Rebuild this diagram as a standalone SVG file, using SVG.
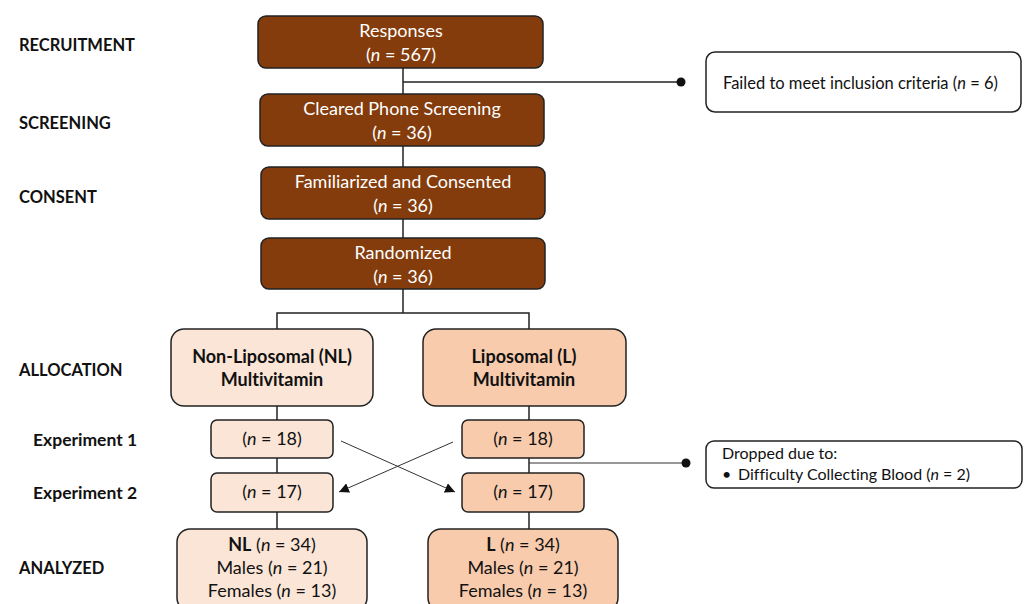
<svg xmlns="http://www.w3.org/2000/svg" width="1027" height="604" viewBox="0 0 1027 604">
<defs>
<style>
text{font-family:Lato,"Open Sans","Liberation Sans",sans-serif;font-variant-ligatures:none;}
.lbl{font-size:16.5px;font-weight:bold;fill:#111;}
.exp{font-size:17.5px;font-weight:bold;fill:#111;}
.dk{fill:#843C0C;stroke:#222;stroke-width:1.5;}
.nl{fill:#FBE5D6;stroke:#222;stroke-width:1.5;}
.l{fill:#F8CBAD;stroke:#222;stroke-width:1.5;}
.wb{fill:#fff;stroke:#222;stroke-width:1.5;}
.wt{font-size:18px;fill:#fff;text-anchor:middle;}
.bt{font-size:18px;fill:#111;text-anchor:middle;}
.bb{font-size:18px;fill:#111;text-anchor:middle;font-weight:bold;}
.st{font-size:16.5px;fill:#111;}
.sd{font-size:16px;fill:#111;}
.ln{stroke:#222;stroke-width:1.5;fill:none;}
.thin{stroke:#333;stroke-width:1;fill:none;}
</style>
<marker id="arr" viewBox="0 0 10 10" refX="10" refY="5" markerWidth="10" markerHeight="10" markerUnits="userSpaceOnUse" orient="auto">
<path d="M0,0 L10,5 L0,10 z" fill="#111"/>
</marker>
</defs>
<rect width="1027" height="604" fill="#fff"/>
<g id="labels">
<text class="lbl" x="19" y="51">RECRUITMENT</text>
<text class="lbl" x="19" y="129">SCREENING</text>
<text class="lbl" x="19" y="203">CONSENT</text>
<text class="lbl" x="19" y="376">ALLOCATION</text>
<text class="exp" x="33" y="446">Experiment 1</text>
<text class="exp" x="33" y="499">Experiment 2</text>
<text class="lbl" x="19" y="574">ANALYZED</text>
</g>
<g id="connectors">
<line class="ln" x1="403" y1="68" x2="403" y2="94"/>
<line class="ln" x1="403" y1="82" x2="681" y2="82"/>
<circle cx="681" cy="82" r="4.5" fill="#111"/>
<line class="ln" x1="403" y1="146" x2="403" y2="167"/>
<line class="ln" x1="403" y1="219" x2="403" y2="238"/>
<line class="ln" x1="403" y1="289" x2="403" y2="313"/>
<polyline class="ln" points="277,329 277,313 529,313 529,329"/>
<line class="ln" x1="277" y1="406" x2="277" y2="420"/>
<line class="ln" x1="277" y1="458" x2="277" y2="473"/>
<line class="ln" x1="277" y1="512" x2="277" y2="529"/>
<line class="ln" x1="529" y1="406" x2="529" y2="420"/>
<line class="ln" x1="529" y1="458" x2="529" y2="473"/>
<line class="ln" x1="529" y1="512" x2="529" y2="529"/>
<line class="thin" x1="529" y1="463" x2="686" y2="463"/>
<circle cx="686" cy="463" r="4.5" fill="#111"/>
<line class="thin" x1="341" y1="441" x2="455" y2="492" marker-end="url(#arr)"/>
<line class="thin" x1="453" y1="442" x2="339" y2="492" marker-end="url(#arr)"/>
</g>
<g id="responses">
<rect class="dk" x="258" y="16" width="285" height="52" rx="8"/>
<text class="wt" x="401" y="37">Responses</text>
<text class="wt" x="401" y="61">(<tspan font-style="italic">n</tspan> = 567)</text>
</g>
<g id="failed">
<rect class="wb" x="706" y="52" width="315" height="60" rx="9"/>
<text class="st" x="723" y="89">Failed to meet inclusion criteria (<tspan font-style="italic">n</tspan> = 6)</text>
</g>
<g id="screening">
<rect class="dk" x="260" y="94" width="284" height="52" rx="8"/>
<text class="wt" x="402" y="115">Cleared Phone Screening</text>
<text class="wt" x="402" y="139">(<tspan font-style="italic">n</tspan> = 36)</text>
</g>
<g id="consent">
<rect class="dk" x="261" y="167" width="284" height="52" rx="8"/>
<text class="wt" x="403" y="188">Familiarized and Consented</text>
<text class="wt" x="403" y="212">(<tspan font-style="italic">n</tspan> = 36)</text>
</g>
<g id="randomized">
<rect class="dk" x="261" y="238" width="284" height="51" rx="8"/>
<text class="wt" x="403" y="259">Randomized</text>
<text class="wt" x="403" y="283">(<tspan font-style="italic">n</tspan> = 36)</text>
</g>
<g id="nl-alloc">
<rect class="nl" x="171" y="329" width="202" height="77" rx="13"/>
<text class="bb" x="272" y="363">Non-Liposomal (NL)</text>
<text class="bb" x="272" y="386">Multivitamin</text>
</g>
<g id="l-alloc">
<rect class="l" x="423" y="329" width="203" height="77" rx="13"/>
<text class="bb" x="524" y="363">Liposomal (L)</text>
<text class="bb" x="524" y="386">Multivitamin</text>
</g>
<g id="nl-exp1">
<rect class="nl" x="211" y="420" width="122" height="38" rx="6"/>
<text class="bt" x="272" y="445">(<tspan font-style="italic">n</tspan> = 18)</text>
</g>
<g id="l-exp1">
<rect class="l" x="462" y="420" width="122" height="38" rx="6"/>
<text class="bt" x="523" y="445">(<tspan font-style="italic">n</tspan> = 18)</text>
</g>
<g id="nl-exp2">
<rect class="nl" x="211" y="473" width="122" height="39" rx="6"/>
<text class="bt" x="272" y="498">(<tspan font-style="italic">n</tspan> = 17)</text>
</g>
<g id="l-exp2">
<rect class="l" x="462" y="473" width="122" height="39" rx="6"/>
<text class="bt" x="523" y="498">(<tspan font-style="italic">n</tspan> = 17)</text>
</g>
<g id="dropped">
<rect class="wb" x="706" y="441" width="316" height="47" rx="8"/>
<text class="sd" x="722" y="459">Dropped due to:</text>
<text class="sd" x="722" y="480">•</text>
<text class="sd" x="738" y="480">Difficulty Collecting Blood (<tspan font-style="italic">n</tspan> = 2)</text>
</g>
<g id="nl-analyzed">
<rect class="nl" x="177" y="529" width="190" height="82" rx="13"/>
<text class="bt" x="272" y="551"><tspan font-weight="bold">NL</tspan> (<tspan font-style="italic">n</tspan> = 34)</text>
<text class="bt" x="272" y="574">Males (<tspan font-style="italic">n</tspan> = 21)</text>
<text class="bt" x="272" y="597">Females (<tspan font-style="italic">n</tspan> = 13)</text>
</g>
<g id="l-analyzed">
<rect class="l" x="428" y="529" width="190" height="82" rx="13"/>
<text class="bt" x="523" y="551"><tspan font-weight="bold">L</tspan> (<tspan font-style="italic">n</tspan> = 34)</text>
<text class="bt" x="523" y="574">Males (<tspan font-style="italic">n</tspan> = 21)</text>
<text class="bt" x="523" y="597">Females (<tspan font-style="italic">n</tspan> = 13)</text>
</g>
</svg>
